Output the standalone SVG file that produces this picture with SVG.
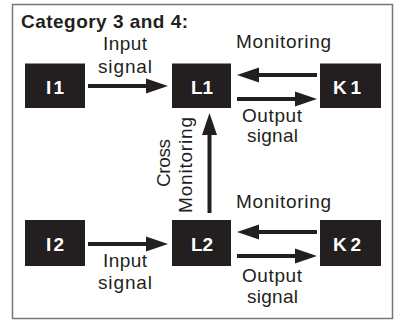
<svg xmlns="http://www.w3.org/2000/svg" width="394" height="320" viewBox="0 0 394 320">
  <style>
    .box { fill: #231f20; }
    .blab { font-family: "Liberation Sans", Arial, sans-serif; font-weight: bold; font-size: 19px; fill: #ffffff; text-anchor: middle; }
    .lab { font-family: "Liberation Sans", Arial, sans-serif; font-size: 19px; fill: #231f20; text-anchor: middle; }
    .title { font-family: "Liberation Sans", Arial, sans-serif; font-weight: bold; font-size: 19px; fill: #231f20; }
    .conn { stroke: #231f20; stroke-width: 4; fill: none; marker-end: url(#ah); }
  </style>
  <defs>
    <marker id="ah" markerUnits="userSpaceOnUse" markerWidth="22" markerHeight="15" refX="0" refY="7.5" orient="auto" overflow="visible">
      <path d="M0,0 L22,7.5 L0,15 z" fill="#231f20"/>
    </marker>
  </defs>
  <rect x="12.5" y="4.5" width="380" height="314" fill="#ffffff" stroke="#777777" stroke-width="1.5"/>
  <text class="title" x="21" y="28" textLength="167" lengthAdjust="spacing">Category 3 and 4:</text>

  <g id="I1">
    <rect class="box" x="25" y="63.5" width="60" height="44.5"/>
    <text class="blab" x="55" y="94" textLength="18" lengthAdjust="spacing">I1</text>
  </g>
  <g id="L1">
    <rect class="box" x="172" y="63.5" width="59" height="44.5"/>
    <text class="blab" x="202" y="94" textLength="22" lengthAdjust="spacing">L1</text>
  </g>
  <g id="K1">
    <rect class="box" x="320" y="63.5" width="61" height="44.5"/>
    <text class="blab" x="347" y="94" textLength="28" lengthAdjust="spacing">K1</text>
  </g>
  <g id="I2">
    <rect class="box" x="25" y="220" width="60" height="46"/>
    <text class="blab" x="55" y="251" textLength="18" lengthAdjust="spacing">I2</text>
  </g>
  <g id="L2">
    <rect class="box" x="172" y="220" width="59" height="46"/>
    <text class="blab" x="202" y="251" textLength="22" lengthAdjust="spacing">L2</text>
  </g>
  <g id="K2">
    <rect class="box" x="320" y="220" width="61" height="46"/>
    <text class="blab" x="347" y="251" textLength="28" lengthAdjust="spacing">K2</text>
  </g>

  <g id="connectors">
    <line class="conn" x1="88" y1="86" x2="146" y2="86"/>
    <line class="conn" x1="317" y1="75" x2="259" y2="75"/>
    <line class="conn" x1="237" y1="99" x2="295" y2="99"/>
    <line class="conn" x1="209.5" y1="213" x2="209.5" y2="135"/>
    <line class="conn" x1="88" y1="244" x2="146" y2="244"/>
    <line class="conn" x1="317" y1="232" x2="259" y2="232"/>
    <line class="conn" x1="237" y1="256" x2="295" y2="256"/>
  </g>

  <g id="labels">
    <text class="lab" x="125" y="50" textLength="44" lengthAdjust="spacing">Input</text>
    <text class="lab" x="125" y="73" textLength="54" lengthAdjust="spacing">signal</text>
    <text class="lab" x="283.5" y="48" textLength="95" lengthAdjust="spacing">Monitoring</text>
    <text class="lab" x="272" y="122" textLength="60" lengthAdjust="spacing">Output</text>
    <text class="lab" x="272.5" y="142" textLength="51" lengthAdjust="spacing">signal</text>
    <text class="lab" transform="translate(170,163) rotate(-90)" x="0" y="0" textLength="48" lengthAdjust="spacing">Cross</text>
    <text class="lab" transform="translate(192,165) rotate(-90)" x="0" y="0" textLength="96" lengthAdjust="spacing">Monitoring</text>
    <text class="lab" x="283.5" y="208" textLength="95" lengthAdjust="spacing">Monitoring</text>
    <text class="lab" x="125" y="267" textLength="44" lengthAdjust="spacing">Input</text>
    <text class="lab" x="125" y="289" textLength="54" lengthAdjust="spacing">signal</text>
    <text class="lab" x="272" y="282" textLength="60" lengthAdjust="spacing">Output</text>
    <text class="lab" x="272.5" y="303" textLength="51" lengthAdjust="spacing">signal</text>
  </g>
</svg>
